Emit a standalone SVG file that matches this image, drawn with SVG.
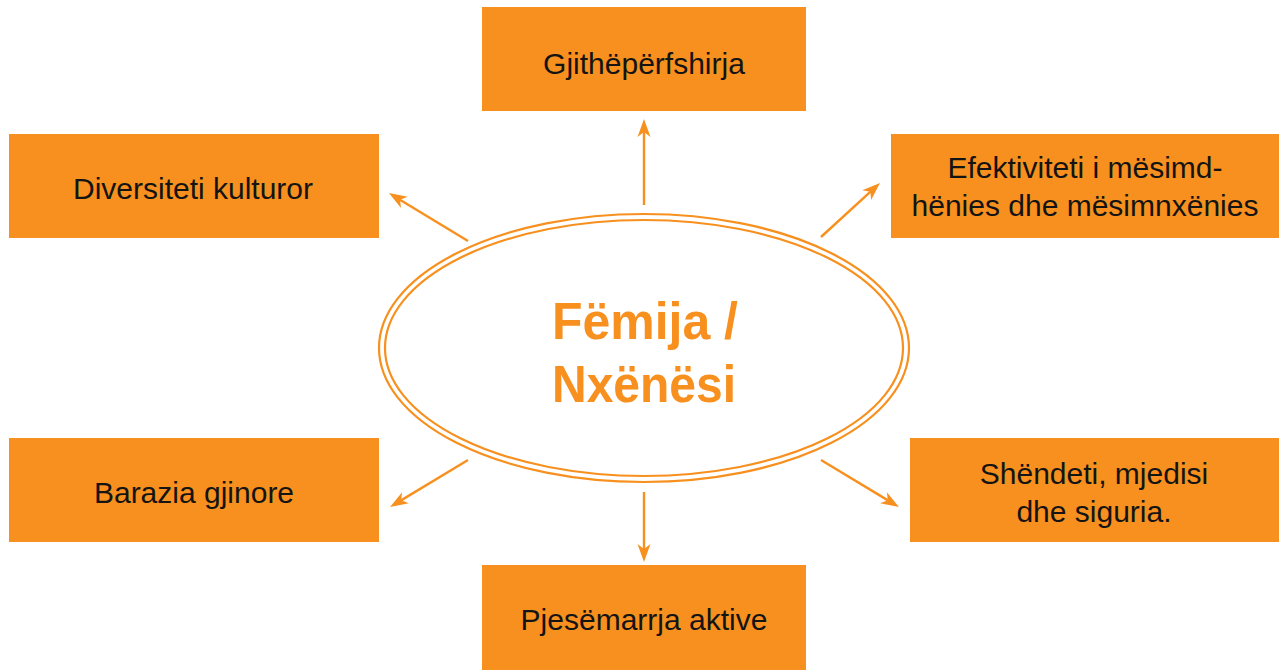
<svg xmlns="http://www.w3.org/2000/svg" width="1279" height="670" viewBox="0 0 1279 670">
  <style>
    .box { fill: #F7901E; }
    .lbl { font-family: "Liberation Sans", Arial, sans-serif; font-size: 30px; fill: #141414; text-anchor: middle; }
    .ctr { font-family: "Liberation Sans", Arial, sans-serif; font-size: 52px; font-weight: bold; fill: #F7901E; text-anchor: middle; }
    .ring { fill: none; stroke: #F7901E; stroke-width: 2.2; }
    .conn { stroke: #F7901E; stroke-width: 2.4; fill: none; marker-end: url(#arr); }
  </style>
  <defs>
    <marker id="arr" markerUnits="userSpaceOnUse" viewBox="-20 -10 30 20" markerWidth="30" markerHeight="20" refX="0" refY="0" orient="auto" overflow="visible">
      <path d="M8,0 L-10,-6.5 L-5,0 L-10,6.5 Z" fill="#F7901E"/>
    </marker>
  </defs>
  <rect width="1279" height="670" fill="#ffffff"/>

  <g id="center">
    <ellipse class="ring" cx="644" cy="348" rx="265" ry="134"/>
    <ellipse class="ring" cx="644" cy="348" rx="259" ry="128"/>
    <text class="ctr" x="645" y="339" textLength="186" lengthAdjust="spacingAndGlyphs">Fëmija /</text>
    <text class="ctr" x="644" y="402" textLength="184" lengthAdjust="spacingAndGlyphs">Nxënësi</text>
  </g>

  <g id="n-gjitheperfshirja">
    <rect class="box" x="482" y="7" width="324" height="104"/>
    <text class="lbl" x="644" y="74">Gjithëpërfshirja</text>
  </g>
  <g id="n-diversiteti">
    <rect class="box" x="9" y="134" width="370" height="104"/>
    <text class="lbl" x="193" y="199">Diversiteti kulturor</text>
  </g>
  <g id="n-efektiviteti">
    <rect class="box" x="891" y="134" width="388" height="104"/>
    <text class="lbl" x="1085" y="178">Efektiviteti i mësimd-</text>
    <text class="lbl" x="1085" y="216">hënies dhe mësimnxënies</text>
  </g>
  <g id="n-barazia">
    <rect class="box" x="9" y="438" width="370" height="104"/>
    <text class="lbl" x="194" y="503">Barazia gjinore</text>
  </g>
  <g id="n-shendeti">
    <rect class="box" x="910" y="438" width="369" height="104"/>
    <text class="lbl" x="1094" y="484">Shëndeti, mjedisi</text>
    <text class="lbl" x="1094" y="522">dhe siguria.</text>
  </g>
  <g id="n-pjesemarrja">
    <rect class="box" x="482" y="565" width="324" height="105"/>
    <text class="lbl" x="644" y="630">Pjesëmarrja aktive</text>
  </g>

  <g id="connectors">
    <line class="conn" x1="644" y1="205" x2="644" y2="127"/>
    <line class="conn" x1="468" y1="241" x2="395.8" y2="197.2"/>
    <line class="conn" x1="821" y1="237" x2="874.1" y2="188.4"/>
    <line class="conn" x1="468" y1="460" x2="396.9" y2="502.9"/>
    <line class="conn" x1="821" y1="460" x2="892.1" y2="502.9"/>
    <line class="conn" x1="644" y1="492" x2="644" y2="554"/>
  </g>
</svg>
